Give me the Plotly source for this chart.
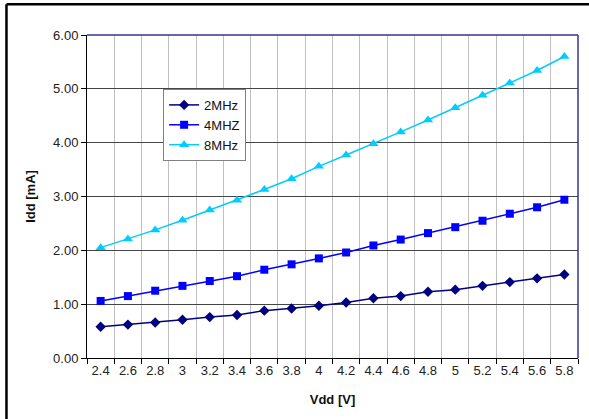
import plotly.graph_objects as go

vdd = ["2.4", "2.6", "2.8", "3", "3.2", "3.4", "3.6", "3.8", "4", "4.2",
       "4.4", "4.6", "4.8", "5", "5.2", "5.4", "5.6", "5.8"]
idd_2mhz = [0.58, 0.62, 0.66, 0.71, 0.76, 0.80, 0.88, 0.92, 0.97, 1.03,
            1.11, 1.15, 1.23, 1.27, 1.34, 1.41, 1.48, 1.55]
idd_4mhz = [1.06, 1.15, 1.25, 1.34, 1.43, 1.52, 1.64, 1.74, 1.85, 1.96,
            2.09, 2.20, 2.32, 2.43, 2.55, 2.68, 2.80, 2.94]
idd_8mhz = [2.05, 2.21, 2.38, 2.56, 2.75, 2.93, 3.13, 3.33, 3.56, 3.77,
            3.98, 4.20, 4.42, 4.65, 4.88, 5.11, 5.34, 5.60]

FONT = "Liberation Sans, Arial, sans-serif"

fig = go.Figure()
fig.add_trace(go.Scatter(x=vdd, y=idd_2mhz, name="2MHz", mode="lines+markers",
                         line=dict(color="#000080", width=1.5),
                         marker=dict(symbol="diamond", size=8, color="#000080")))
fig.add_trace(go.Scatter(x=vdd, y=idd_4mhz, name="4MHZ", mode="lines+markers",
                         line=dict(color="#0000FF", width=1.5),
                         marker=dict(symbol="square", size=8, color="#0000FF")))
fig.add_trace(go.Scatter(x=vdd, y=idd_8mhz, name="8MHz", mode="lines+markers",
                         line=dict(color="#00CCFF", width=1.5),
                         marker=dict(symbol="triangle-up", size=9, color="#00CCFF")))

fig.update_layout(
    width=589, height=419,
    margin=dict(l=87, r=11, t=35, b=61),
    paper_bgcolor="white", plot_bgcolor="white",
    font=dict(family=FONT, size=13, color="#222"),
    showlegend=True,
    legend=dict(x=0.155, y=0.833, xanchor="left", yanchor="top",
                bgcolor="white", bordercolor="#808080", borderwidth=1,
                font=dict(family=FONT, size=13, color="#111"),
                tracegroupgap=0, itemwidth=30),
    xaxis=dict(type="category", tickson="boundaries", ticks="outside", ticklen=5,
               tickcolor="black", showline=True, linecolor="black", linewidth=1,
               showgrid=True, gridcolor="#c0c0c0", gridwidth=1,
               tickfont=dict(family=FONT, size=13, color="#222"),
               title=dict(text="<b>Vdd [V]</b>", font=dict(family=FONT, size=13, color="#111"),
                          standoff=18),
               range=[-0.5, 17.5], zeroline=False),
    yaxis=dict(range=[0, 6], dtick=1, tickformat=".2f", ticks="outside", ticklen=5,
               tickcolor="black", showline=True, linecolor="black", linewidth=1,
               showgrid=True, gridcolor="#454545", gridwidth=1, zeroline=False,
               tickfont=dict(family=FONT, size=13, color="#222"),
               title=dict(text="<b>Idd [mA]</b>", font=dict(family=FONT, size=13, color="#111"),
                          standoff=14)),
    shapes=[
        dict(type="line", xref="paper", yref="paper", x0=0, x1=1, y0=1, y1=1,
             line=dict(color="#333399", width=1.5)),
        dict(type="line", xref="paper", yref="paper", x0=1, x1=1, y0=0, y1=1,
             line=dict(color="#333399", width=1.5)),
        # outer chart frame (top and left edges visible)
        dict(type="line", xref="paper", yref="paper", x0=-0.164, x1=1.03, y0=1.095, y1=1.095,
             line=dict(color="black", width=2.5)),
        dict(type="line", xref="paper", yref="paper", x0=-0.164, x1=-0.164, y0=-0.2, y1=1.095,
             line=dict(color="black", width=2.5)),
    ],
)

fig.write_html("out.html", config={"displayModeBar": False},
               post_script="document.documentElement.style.overflow='hidden';document.body.style.margin='0';document.body.style.padding='0';document.body.style.overflow='hidden';")
